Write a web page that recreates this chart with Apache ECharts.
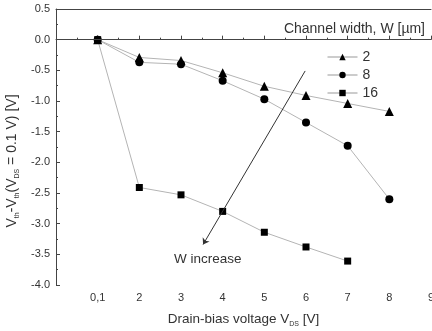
<!DOCTYPE html>
<html>
<head>
<meta charset="utf-8">
<script src="https://cdn.jsdelivr.net/npm/echarts@6/dist/echarts.min.js"></script>
<style>
  html, body { margin: 0; padding: 0; background: #fff; }
  #chart { width: 432px; height: 331px; }
</style>
</head>
<body>
<div id="chart"></div>
<script>
// x positions (1 = 0,1 V), series values in V
var xPos = [1, 2, 3, 4, 5, 6, 7, 8];
var xTickLabels = {0: '', 1: '0,1', 2: '2', 3: '3', 4: '4', 5: '5', 6: '6', 7: '7', 8: '8', 9: '9'};
var w2 = [0, -0.29, -0.34, -0.54, -0.76, -0.91, -1.04, -1.17];
var w8 = [0, -0.37, -0.40, -0.67, -0.97, -1.35, -1.73, -2.60];
var w16 = [0, -2.41, -2.53, -2.80, -3.14, -3.38, -3.61];
var seriesNames = ['2', '8', '16'];
var arrowFrom = [5.98, -0.51];
var arrowTo = [3.53, -3.34];

function pairs(vals) {
    return vals.map(function (v, i) { return [xPos[i], v]; });
}

var chart = echarts.init(document.getElementById('chart'));

var lineColor = '#b4b4b4';
var textColor = '#333';
var font = 'Liberation Sans';

chart.setOption({
    animation: false,
    grid: { left: 56, top: 9, right: 1, bottom: 46, outerBoundsMode: 'none' },
    legend: {
        orient: 'vertical',
        left: 322,
        top: 45,
        itemWidth: 30,
        itemHeight: 8,
        itemGap: 4,
        lineStyle: { width: 1, color: '#999' },
        textStyle: { fontSize: 14, color: textColor, fontFamily: font },
        data: seriesNames
    },
    xAxis: [{
        type: 'value',
        min: 0,
        max: 9,
        interval: 1,
        name: 'Drain-bias voltage V{sub|DS} [V]',
        nameLocation: 'middle',
        nameGap: 26,
        nameTextStyle: {
            fontSize: 13.5, color: textColor, fontFamily: font,
            rich: { sub: { fontSize: 7, padding: [10, 0, 0, 0], color: textColor } }
        },
        axisLine: { lineStyle: { color: '#444', width: 1 } },
        axisTick: { inside: true, length: 4, lineStyle: { color: '#444' } },
        minorTick: { show: true, splitNumber: 2, length: 2, lineStyle: { color: '#444' } },
        splitLine: { show: false },
        axisLabel: {
            fontSize: 11, color: textColor, fontFamily: font, margin: 7,
            showMaxLabel: true,
            formatter: function (v) { return xTickLabels[v]; }
        }
    }, {
        type: 'value',
        position: 'top',
        min: 0,
        max: 9,
        axisLine: { show: true, lineStyle: { color: '#444', width: 1 } },
        axisTick: { show: false },
        axisLabel: { show: false },
        splitLine: { show: false }
    }],
    yAxis: {
        type: 'value',
        min: -4,
        max: 0.5,
        interval: 0.5,
        name: 'V{sub|th}-V{sub|th}(V{sub|DS} = 0.1 V) [V]',
        nameLocation: 'middle',
        nameRotate: 90,
        nameGap: 35,
        nameTextStyle: {
            fontSize: 14, color: textColor, fontFamily: font,
            padding: [0, 28, 0, 0],
            rich: { sub: { fontSize: 7, padding: [10, 0, 0, 0], color: textColor } }
        },
        axisLine: { show: true, lineStyle: { color: '#444', width: 1 } },
        axisTick: { show: true, inside: true, length: 4, lineStyle: { color: '#444' } },
        minorTick: { show: true, splitNumber: 2, length: 2, lineStyle: { color: '#444' } },
        splitLine: { show: false },
        axisLabel: {
            fontSize: 11, color: textColor, fontFamily: font, margin: 6,
            formatter: function (v) { return v.toFixed(1); }
        }
    },
    series: [
        {
            name: seriesNames[0], type: 'line', data: pairs(w2),
            symbol: 'triangle', symbolSize: 9,
            itemStyle: { color: '#000' },
            lineStyle: { color: lineColor, width: 1 },
            markLine: {
                silent: true, symbol: 'none', label: { show: false },
                lineStyle: { color: '#444', width: 1, type: 'solid' },
                data: [{ yAxis: 0 }]
            }
        },
        {
            name: seriesNames[1], type: 'line', data: pairs(w8),
            symbol: 'circle', symbolSize: 8,
            itemStyle: { color: '#000' },
            lineStyle: { color: lineColor, width: 1 }
        },
        {
            name: seriesNames[2], type: 'line', data: pairs(w16),
            symbol: 'rect', symbolSize: 7,
            itemStyle: { color: '#000' },
            lineStyle: { color: lineColor, width: 1 },
            markLine: {
                silent: true, symbol: ['none', 'arrow'], symbolSize: 6,
                label: { show: false },
                lineStyle: { color: '#333', width: 1, type: 'solid' },
                data: [[{ coord: arrowFrom }, { coord: arrowTo }]]
            }
        }
    ],
    graphic: [
        {
            type: 'text', right: 7, top: 22,
            style: { text: 'Channel width, W [µm]', fontSize: 14, fill: textColor, fontFamily: font }
        },
        {
            type: 'text', left: 174, top: 252,
            style: { text: 'W increase', fontSize: 13.5, fill: textColor, fontFamily: font }
        }
    ]
});
</script>
</body>
</html>
